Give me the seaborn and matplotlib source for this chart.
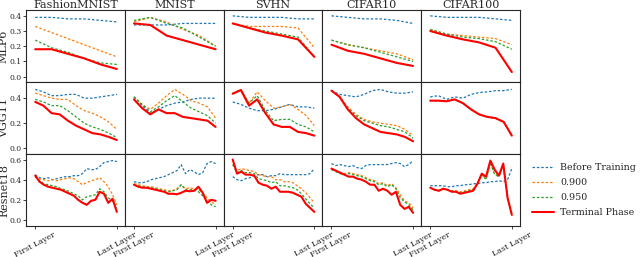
"""Layer-wise metric across datasets and architectures."""
import numpy as np
import pandas as pd
import matplotlib
matplotlib.use("Agg")
import matplotlib.pyplot as plt
import seaborn as sns

datasets = ["FashionMNIST", "MNIST", "SVHN", "CIFAR10", "CIFAR100"]
models = ["MLP6", "VGG11", "Resnet18"]
series_labels = ["Before Training", "0.900", "0.950", "Terminal Phase"]
tick_labels = ["First Layer", "Last Layer"]

# MLP6: one list per dataset (FashionMNIST, MNIST, SVHN, CIFAR10, CIFAR100)
mlp6_before = [
    [0.39, 0.39, 0.38, 0.38, 0.37, 0.36],
    [0.34, 0.34, 0.34, 0.35, 0.35, 0.35],
    [0.40, 0.39, 0.39, 0.39, 0.38, 0.38],
    [0.40, 0.39, 0.38, 0.38, 0.37, 0.35],
    [0.40, 0.39, 0.39, 0.39, 0.38, 0.37],
]
mlp6_p900 = [
    [0.33, 0.29, 0.25, 0.21, 0.17, 0.13],
    [0.36, 0.39, 0.36, 0.31, 0.27, 0.20],
    [0.35, 0.33, 0.33, 0.33, 0.32, 0.19],
    [0.24, 0.21, 0.19, 0.17, 0.15, 0.11],
    [0.31, 0.28, 0.27, 0.26, 0.25, 0.21],
]
mlp6_p950 = [
    [0.24, 0.19, 0.16, 0.12, 0.09, 0.08],
    [0.37, 0.39, 0.35, 0.32, 0.26, 0.20],
    [0.35, 0.32, 0.30, 0.28, 0.26, 0.13],
    [0.24, 0.21, 0.19, 0.16, 0.13, 0.10],
    [0.31, 0.28, 0.26, 0.25, 0.23, 0.18],
]
mlp6_terminal = [
    [0.18, 0.18, 0.15, 0.12, 0.08, 0.05],
    [0.35, 0.34, 0.27, 0.24, 0.21, 0.18],
    [0.35, 0.32, 0.29, 0.27, 0.245, 0.13],
    [0.21, 0.17, 0.15, 0.12, 0.09, 0.07],
    [0.30, 0.27, 0.245, 0.225, 0.19, 0.03],
]

vgg11_before = [
    [0.47, 0.45, 0.42, 0.42, 0.43, 0.43, 0.40, 0.40, 0.41, 0.42, 0.43],
    [0.41, 0.34, 0.28, 0.31, 0.34, 0.36, 0.37, 0.39, 0.40, 0.40, 0.40],
    [0.37, 0.35, 0.32, 0.30, 0.30, 0.31, 0.33, 0.35, 0.33, 0.33, 0.32],
    [0.46, 0.43, 0.42, 0.41, 0.43, 0.46, 0.47, 0.45, 0.44, 0.44, 0.45],
    [0.41, 0.42, 0.39, 0.41, 0.40, 0.43, 0.445, 0.45, 0.46, 0.46, 0.47],
]
vgg11_p900 = [
    [0.44, 0.42, 0.40, 0.39, 0.39, 0.34, 0.30, 0.28, 0.25, 0.21, 0.15],
    [0.41, 0.35, 0.31, 0.36, 0.42, 0.47, 0.43, 0.38, 0.36, 0.33, 0.24],
    [0.44, 0.47, 0.36, 0.45, 0.38, 0.32, 0.33, 0.35, 0.31, 0.26, 0.18],
    [0.46, 0.41, 0.33, 0.27, 0.23, 0.21, 0.20, 0.19, 0.18, 0.15, 0.10],
    [0.38, 0.38, 0.375, 0.39, 0.36, 0.31, 0.27, 0.25, 0.24, 0.21, 0.10],
]
vgg11_p950 = [
    [0.39, 0.37, 0.34, 0.34, 0.30, 0.25, 0.20, 0.17, 0.15, 0.12, 0.085],
    [0.41, 0.35, 0.29, 0.33, 0.38, 0.42, 0.37, 0.32, 0.29, 0.26, 0.20],
    [0.44, 0.46, 0.36, 0.42, 0.30, 0.22, 0.23, 0.23, 0.19, 0.17, 0.13],
    [0.46, 0.41, 0.32, 0.26, 0.22, 0.20, 0.18, 0.17, 0.15, 0.13, 0.08],
    [0.38, 0.38, 0.375, 0.39, 0.36, 0.31, 0.27, 0.25, 0.24, 0.21, 0.10],
]
vgg11_terminal = [
    [0.37, 0.34, 0.28, 0.27, 0.22, 0.18, 0.15, 0.12, 0.11, 0.09, 0.065],
    [0.39, 0.32, 0.27, 0.31, 0.28, 0.28, 0.25, 0.24, 0.23, 0.22, 0.17],
    [0.435, 0.465, 0.34, 0.39, 0.28, 0.19, 0.17, 0.17, 0.13, 0.12, 0.10],
    [0.46, 0.41, 0.31, 0.24, 0.19, 0.16, 0.13, 0.12, 0.11, 0.09, 0.055],
    [0.38, 0.38, 0.375, 0.39, 0.36, 0.31, 0.27, 0.25, 0.24, 0.21, 0.10],
]

resnet18_before = [
    [0.45, 0.42, 0.41, 0.42, 0.40, 0.41, 0.42, 0.43, 0.43, 0.44,
     0.44, 0.46, 0.51, 0.50, 0.50, 0.53, 0.57, 0.58, 0.59, 0.58],
    [0.38, 0.37, 0.37, 0.38, 0.40, 0.41, 0.42, 0.43, 0.45, 0.47,
     0.49, 0.55, 0.46, 0.50, 0.48, 0.45, 0.47, 0.56, 0.58, 0.56],
    [0.43, 0.40, 0.39, 0.41, 0.42, 0.44, 0.45, 0.45, 0.43, 0.44,
     0.44, 0.46, 0.45, 0.45, 0.45, 0.45, 0.45, 0.45, 0.46, 0.51],
    [0.56, 0.54, 0.55, 0.54, 0.53, 0.54, 0.52, 0.51, 0.54, 0.55,
     0.55, 0.55, 0.55, 0.55, 0.56, 0.57, 0.56, 0.53, 0.55, 0.59],
    [0.34, 0.34, 0.34, 0.34, 0.33, 0.33, 0.34, 0.34, 0.35, 0.35,
     0.36, 0.36, 0.37, 0.37, 0.38, 0.38, 0.39, 0.38, 0.40, 0.51],
]
resnet18_p900 = [
    [0.44, 0.41, 0.40, 0.39, 0.40, 0.39, 0.40, 0.41, 0.42, 0.41,
     0.38, 0.35, 0.37, 0.39, 0.40, 0.42, 0.38, 0.33, 0.25, 0.15],
    [0.36, 0.35, 0.34, 0.33, 0.33, 0.32, 0.31, 0.30, 0.29, 0.29,
     0.31, 0.35, 0.31, 0.32, 0.31, 0.30, 0.27, 0.22, 0.18, 0.15],
    [0.55, 0.49, 0.51, 0.50, 0.49, 0.48, 0.45, 0.44, 0.43, 0.43,
     0.40, 0.40, 0.38, 0.38, 0.37, 0.34, 0.31, 0.27, 0.22, 0.17],
    [0.51, 0.49, 0.47, 0.46, 0.47, 0.46, 0.45, 0.44, 0.42, 0.40,
     0.39, 0.36, 0.37, 0.34, 0.36, 0.32, 0.25, 0.19, 0.17, 0.12],
    [0.32, 0.30, 0.29, 0.31, 0.30, 0.29, 0.29, 0.28, 0.29, 0.30,
     0.31, 0.37, 0.44, 0.42, 0.56, 0.46, 0.45, 0.55, 0.24, 0.06],
]
resnet18_p950 = [
    [0.43, 0.39, 0.36, 0.35, 0.34, 0.33, 0.31, 0.30, 0.28, 0.26,
     0.24, 0.20, 0.23, 0.24, 0.25, 0.31, 0.28, 0.22, 0.19, 0.12],
    [0.35, 0.34, 0.33, 0.32, 0.32, 0.31, 0.30, 0.29, 0.28, 0.29,
     0.30, 0.35, 0.30, 0.30, 0.30, 0.28, 0.24, 0.19, 0.15, 0.13],
    [0.55, 0.47, 0.49, 0.47, 0.47, 0.46, 0.41, 0.40, 0.39, 0.37,
     0.38, 0.34, 0.34, 0.33, 0.32, 0.30, 0.26, 0.21, 0.16, 0.12],
    [0.50, 0.48, 0.46, 0.45, 0.46, 0.45, 0.44, 0.43, 0.41, 0.39,
     0.38, 0.35, 0.36, 0.33, 0.35, 0.31, 0.22, 0.18, 0.15, 0.10],
    [0.32, 0.30, 0.29, 0.31, 0.30, 0.29, 0.28, 0.27, 0.28, 0.29,
     0.30, 0.36, 0.45, 0.40, 0.57, 0.45, 0.43, 0.54, 0.23, 0.05],
]
resnet18_terminal = [
    [0.44, 0.38, 0.35, 0.33, 0.32, 0.31, 0.30, 0.28, 0.26, 0.24,
     0.20, 0.17, 0.15, 0.19, 0.20, 0.28, 0.26, 0.17, 0.21, 0.08],
    [0.35, 0.33, 0.32, 0.32, 0.31, 0.30, 0.29, 0.28, 0.26, 0.26,
     0.255, 0.27, 0.29, 0.285, 0.29, 0.33, 0.27, 0.17, 0.20, 0.19],
    [0.60, 0.46, 0.48, 0.45, 0.45, 0.44, 0.37, 0.35, 0.34, 0.31,
     0.33, 0.28, 0.28, 0.28, 0.27, 0.25, 0.23, 0.16, 0.12, 0.08],
    [0.51, 0.49, 0.47, 0.45, 0.43, 0.43, 0.41, 0.40, 0.38, 0.35,
     0.35, 0.29, 0.31, 0.29, 0.25, 0.28, 0.15, 0.11, 0.13, 0.07],
    [0.32, 0.30, 0.29, 0.31, 0.30, 0.28, 0.28, 0.26, 0.27, 0.28,
     0.29, 0.36, 0.46, 0.43, 0.59, 0.50, 0.44, 0.56, 0.22, 0.05],
]

row_data = [
    [mlp6_before, mlp6_p900, mlp6_p950, mlp6_terminal],
    [vgg11_before, vgg11_p900, vgg11_p950, vgg11_terminal],
    [resnet18_before, resnet18_p900, resnet18_p950, resnet18_terminal],
]
row_ylim = [(-0.035, 0.44), (-0.047, 0.53), (-0.062, 0.655)]
row_yticks = [[0.0, 0.1, 0.2, 0.3, 0.4], [0.0, 0.2, 0.4], [0.0, 0.2, 0.4, 0.6]]

styles = [
    dict(color="#1f77b4", linestyle=(0, (2, 1.5)), linewidth=0.9),
    dict(color="#ff7f0e", linestyle=(0, (2, 1.5)), linewidth=0.9),
    dict(color="#2ca02c", linestyle=(0, (2, 1.5)), linewidth=0.9),
    dict(color="#ff0000", linestyle="-", linewidth=1.5),
]

sns.set_theme(style="ticks")
plt.rcParams["font.family"] = ["DejaVu Serif"]
plt.rcParams["axes.linewidth"] = 0.8

fig, axes = plt.subplots(3, 5, figsize=(6.4, 2.57), dpi=100, sharey="row")
fig.subplots_adjust(left=0.041, right=0.8125, top=0.962, bottom=0.12,
                    wspace=0, hspace=0)

for r in range(3):
    for c in range(5):
        ax = axes[r, c]
        for s, series in enumerate(row_data[r]):
            vals = series[c]
            df = pd.DataFrame({"layer": np.arange(len(vals)), "value": vals})
            sns.lineplot(data=df, x="layer", y="value", ax=ax,
                         label=series_labels[s], legend=False, **styles[s])
        n = len(row_data[r][0][c])
        ax.set_xlim(-0.11 * (n - 1), 1.1 * (n - 1))
        ax.set_ylim(*row_ylim[r])
        ax.set_xlabel("")
        ax.set_ylabel("")
        if r == 2:
            ax.set_xticks([0, n - 1])
            ax.set_xticklabels(tick_labels, rotation=28, fontsize=5.8)
        else:
            ax.set_xticks([])
        ax.tick_params(axis="both", length=2, width=0.6, pad=1)
        if c == 0:
            ax.set_yticks(row_yticks[r])
            ax.tick_params(axis="y", labelsize=5.5)
            ax.set_ylabel(models[r], fontsize=8)
            ax.yaxis.set_label_coords(-0.175, 0.5)
        else:
            ax.tick_params(axis="y", left=False)
        if r == 0:
            ax.set_title(datasets[c], fontsize=8, pad=1.5)

handles, labels = axes[0, 0].get_legend_handles_labels()
fig.legend(handles, labels, loc="center left", bbox_to_anchor=(0.818, 0.26),
           frameon=False, fontsize=6.8, handlelength=2.3, handletextpad=0.7,
           labelspacing=0.62)

fig.savefig("out.png", dpi=100)
